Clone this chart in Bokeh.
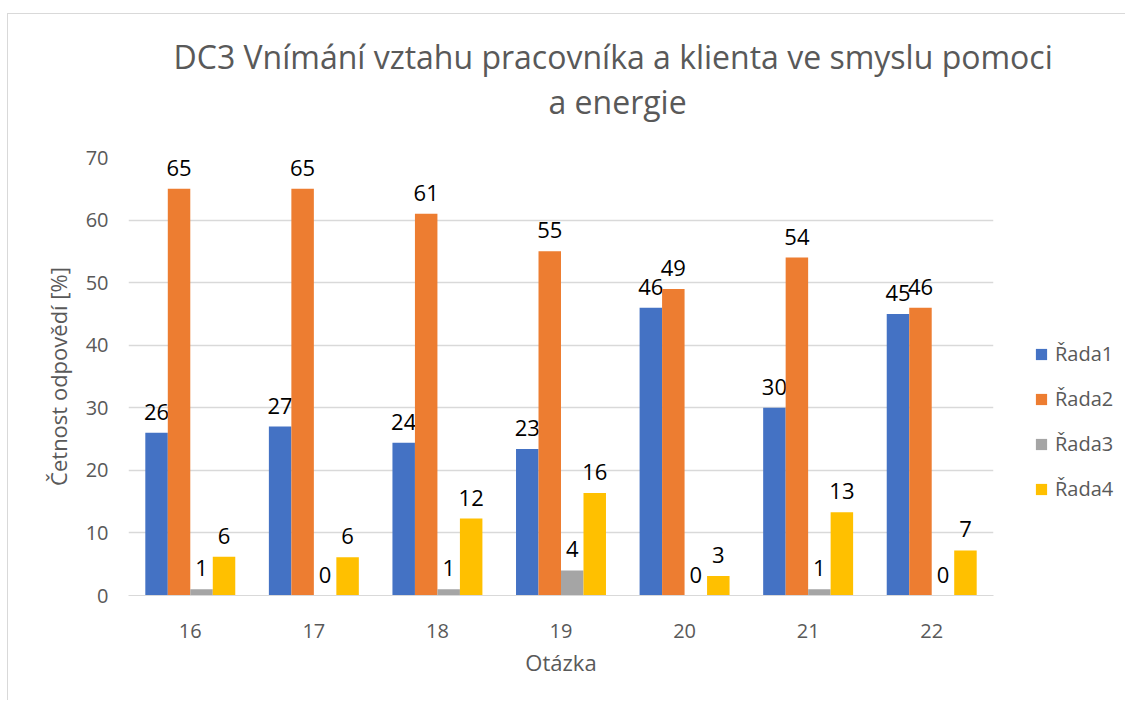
from bokeh.plotting import figure
from bokeh.models import ColumnDataSource, FactorRange, Range1d, Legend, LegendItem, Title
from bokeh.layouts import row, column
from bokeh.transform import dodge
from bokeh.core.properties import value
from bokeh.embed import file_html
from bokeh.resources import INLINE

categories = ["16", "17", "18", "19", "20", "21", "22"]
series_names = ["Řada1", "Řada2", "Řada3", "Řada4"]
rada1 = [26, 27, 24.4, 23.4, 46, 30, 45]
rada2 = [65, 65, 61, 55, 49, 54, 46]
rada3 = [1, 0, 1, 4, 0, 1, 0]
rada4 = [6.2, 6.1, 12.3, 16.4, 3.1, 13.3, 7.2]
y_ticks = [0, 10, 20, 30, 40, 50, 60, 70]

title_line1 = "DC3 Vnímání vztahu pracovníka a klienta ve smyslu pomoci"
title_line2 = "a energie"
x_label = "Otázka"
y_label = "Četnost odpovědí [%]"

colors = ["#4472C4", "#ED7D31", "#A5A5A5", "#FFC000"]
offsets = [-0.273, -0.091, 0.091, 0.273]
bar_w = 0.182
FONT = "Open Sans"
GREY = "#595959"

# ---- title strip ----
tf = figure(width=1117, height=128, output_backend="svg", toolbar_location=None,
            title=None, x_range=Range1d(0, 1), y_range=Range1d(0, 1),
            x_axis_location=None, y_axis_location=None,
            min_border_left=0, min_border_right=0, min_border_top=108,
            min_border_bottom=0)
tf.outline_line_color = None
tf.grid.grid_line_color = None
tf.add_layout(Title(text=title_line2, align="left", text_font=FONT,
                    text_font_size="32px", text_color=GREY,
                    text_font_style="normal", offset=540, standoff=0), "above")
tf.add_layout(Title(text=title_line1, align="left", text_font=FONT,
                    text_font_size="32px", text_color=GREY,
                    text_font_style="normal", offset=165, standoff=0), "above")

# ---- main chart ----
p = figure(x_range=FactorRange(*categories), y_range=Range1d(0, 70),
           width=1002, height=558, output_backend="svg", toolbar_location=None,
           title=None, min_border_left=120, min_border_right=17,
           min_border_top=15, min_border_bottom=105)

all_series = [rada1, rada2, rada3, rada4]
for name, vals, col, off in zip(series_names, all_series, colors, offsets):
    src = ColumnDataSource(dict(cat=categories, val=vals,
                                lab=[str(int(round(v))) for v in vals]))
    p.vbar(x=dodge("cat", off, range=p.x_range), top="val", width=bar_w,
           source=src, fill_color=col, line_color=None)
    p.text(x=dodge("cat", off, range=p.x_range), y="val", text="lab", source=src,
           text_align="center", text_baseline="bottom", y_offset=-13,
           text_font=value(FONT), text_font_size="22px", text_color="black")

p.outline_line_color = None
p.xgrid.grid_line_color = None
p.ygrid.grid_line_color = "#d9d9d9"
p.ygrid.grid_line_width = 1.5
p.yaxis.ticker = y_ticks

for ax in (p.xaxis, p.yaxis):
    ax.major_tick_line_color = None
    ax.minor_tick_line_color = None
    ax.major_tick_out = 0
    ax.major_tick_in = 0
    ax.major_label_text_font = FONT
    ax.major_label_text_font_size = "20px"
    ax.major_label_text_color = GREY
    ax.axis_label_text_font = FONT
    ax.axis_label_text_font_size = "22px"
    ax.axis_label_text_color = GREY
    ax.axis_label_text_font_style = "normal"

p.yaxis.axis_line_color = None
p.xaxis.axis_line_color = "#d9d9d9"
p.yaxis.major_label_standoff = 20
p.xaxis.major_label_standoff = 28
p.yaxis.axis_label = y_label
p.xaxis.axis_label = x_label
p.yaxis.axis_label_standoff = 10
p.xaxis.axis_label_standoff = 6

# ---- legend panel ----
lg = figure(width=115, height=558, output_backend="svg", toolbar_location=None,
            x_range=Range1d(0, 1), y_range=Range1d(0, 1), title=None,
            x_axis_location=None, y_axis_location=None,
            min_border_left=0, min_border_right=0,
            min_border_top=0, min_border_bottom=0)
lg.outline_line_color = None
lg.grid.grid_line_color = None
items = []
for name, col in zip(series_names, colors):
    r = lg.vbar(x=[0.5], bottom=[0], top=[0], width=0.0, fill_color=col,
                line_color=None)
    items.append(LegendItem(label=name, renderers=[r]))
legend = Legend(items=items, location=(24, 93), orientation="vertical",
                glyph_width=14, glyph_height=14, label_standoff=7,
                label_text_font=FONT, label_text_font_size="20px",
                label_text_color=GREY, label_height=20, spacing=18,
                padding=0, margin=0,
                border_line_color=None, background_fill_alpha=0)
lg.add_layout(legend, "center")

layout = column(tf, row(p, lg), margin=(13, 0, 0, 7),
                styles={"border-left": "1px solid #d9d9d9",
                        "border-top": "1px solid #d9d9d9"})

open("out.html", "w").write(file_html(layout, INLINE))
